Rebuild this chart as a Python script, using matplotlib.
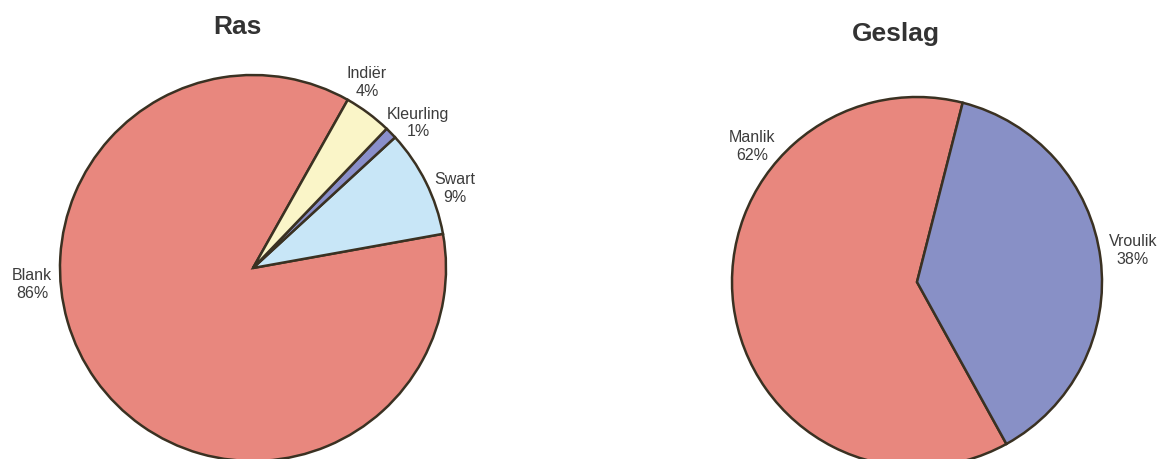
import matplotlib
matplotlib.use("Agg")
import matplotlib.pyplot as plt

plt.rcParams['font.family'] = ['Liberation Sans', 'DejaVu Sans']

# data
ras_labels = ["Blank", "Swart", "Kleurling", "Indiër"]
ras_values = [86, 9, 1, 4]
geslag_labels = ["Manlik", "Vroulik"]
geslag_values = [62, 38]

# styles
ras_colors = ["#e8877e", "#c8e6f7", "#8a8fcb", "#faf5c8"]
geslag_colors = ["#e8877e", "#8890c6"]
edge = "#3a3122"
txt = "#3c3c3c"

W, H = 1164, 460
fig = plt.figure(figsize=(W / 100, H / 100), dpi=100)
ax = fig.add_axes([0, 0, 1, 1])
ax.set_xlim(0, W)
ax.set_ylim(0, H)
ax.set_aspect("equal")
ax.axis("off")

def py(y):
    # pixel row -> data y
    return H - y

# left pie: Ras
ax.pie(ras_values, colors=ras_colors, startangle=60.6, counterclock=True,
       center=(253, py(269)), radius=193, frame=True,
       wedgeprops=dict(edgecolor=edge, linewidth=1.8))
ras_pos = [(32, 284), (455, 189), (418, 123), (367, 83)]
for lab, v, (x, y) in zip(ras_labels, ras_values, ras_pos):
    ax.text(x, py(y), f"{lab}\n{v}%", ha="center", va="center",
            fontsize=11.5, color=txt, linespacing=1.25)

# right pie: Geslag
ax.pie(geslag_values, colors=geslag_colors, startangle=75.7, counterclock=True,
       center=(917, py(283)), radius=185, frame=True,
       wedgeprops=dict(edgecolor=edge, linewidth=1.8))
ges_pos = [(752, 147), (1133, 251)]
for lab, v, (x, y) in zip(geslag_labels, geslag_values, ges_pos):
    ax.text(x, py(y), f"{lab}\n{v}%", ha="center", va="center",
            fontsize=11.5, color=txt, linespacing=1.25)

ax.set_xlim(0, W)
ax.set_ylim(0, H)
ax.axis("off")

ax.text(237, py(27), "Ras", ha="center", va="center", fontsize=19,
        fontweight="bold", color="#333333")
ax.text(896, py(34), "Geslag", ha="center", va="center", fontsize=19,
        fontweight="bold", color="#333333")

fig.savefig("out.png", dpi=100, facecolor="white")
